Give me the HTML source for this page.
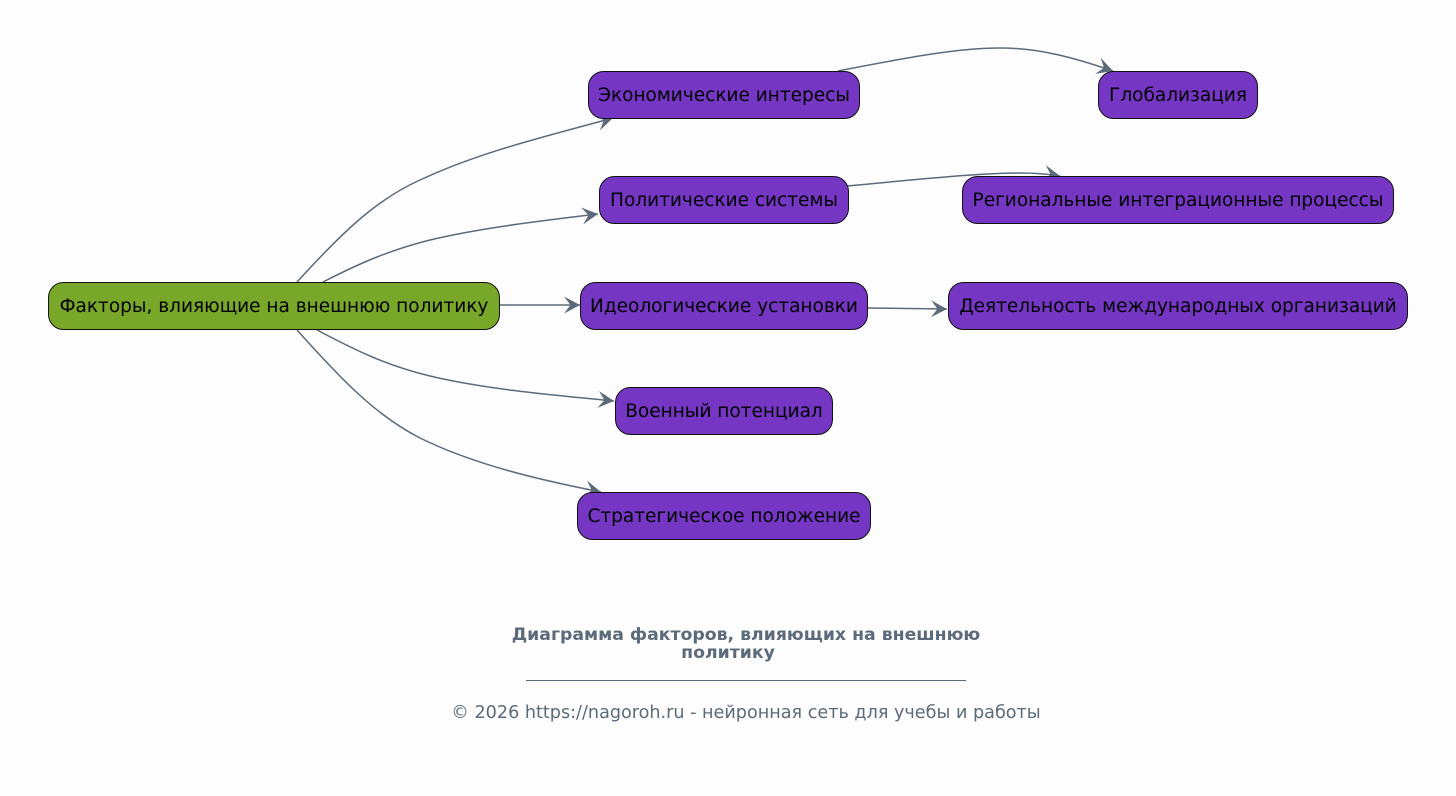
<!DOCTYPE html>
<html><head><meta charset="utf-8"><style>
html,body{margin:0;padding:0;background:#fdfdfd;}
svg{display:block}
text{font-family:"DejaVu Sans","Liberation Sans",sans-serif;}
</style></head><body>
<svg width="1456" height="796" viewBox="0 0 1456 796" xmlns="http://www.w3.org/2000/svg">
<rect width="1456" height="796" fill="#fdfdfd"/>
<defs>
<marker id="a" viewBox="0 0 16 16" refX="15" refY="8" markerWidth="17" markerHeight="17" markerUnits="userSpaceOnUse" orient="auto">
<path d="M0,0 L15,8 L0,16 L6,8 Z" fill="#5c6b7a"/>
</marker>
</defs>
<g fill="none" stroke="#5c6b7a" stroke-width="1.5" marker-end="url(#a)">
<path d="M297,282 C340,235 375,200 420,180 C480,152 540,138 613,118"/>
<path d="M323,282 C360,263 390,250 430,240 C480,228 540,221 598,214"/>
<path d="M500,305 L580,305"/>
<path d="M317,330 C355,350 385,365 430,376 C480,388 540,394 614,401"/>
<path d="M297,330 C340,378 375,415 420,438 C475,465 540,480 601,492"/>
<path d="M838,71 C900,59 955,48 1000,48 C1040,48 1075,58 1113,71"/>
<path d="M848,186 C920,179 980,173 1020,173 C1035,173 1048,174 1060,176"/>
<path d="M868,308 L947,309"/>
</g>
<g stroke="#111" stroke-width="1">
<rect x="48.5" y="282.5" width="451" height="47" rx="15" fill="#78a72a"/>
<rect x="588.5" y="71.5" width="271" height="47" rx="15" fill="#7536c4"/>
<rect x="599.5" y="176.5" width="249" height="47" rx="15" fill="#7536c4"/>
<rect x="580.5" y="282.5" width="287" height="47" rx="15" fill="#7536c4"/>
<rect x="615.5" y="387.5" width="217" height="47" rx="15" fill="#7536c4"/>
<rect x="577.5" y="492.5" width="293" height="47" rx="15" fill="#7536c4"/>
<rect x="1098.5" y="71.5" width="159" height="47" rx="15" fill="#7536c4"/>
<rect x="962.5" y="176.5" width="431" height="47" rx="15" fill="#7536c4"/>
<rect x="948.5" y="282.5" width="459" height="47" rx="15" fill="#7536c4"/>
</g>
<g font-size="18.5" fill="#000" text-anchor="middle">
<text x="274" y="312">Факторы, влияющие на внешнюю политику</text>
<text x="724" y="101">Экономические интересы</text>
<text x="724" y="206">Политические системы</text>
<text x="724" y="312">Идеологические установки</text>
<text x="724" y="417">Военный потенциал</text>
<text x="724" y="522">Стратегическое положение</text>
<text x="1178" y="101">Глобализация</text>
<text x="1178" y="206">Региональные интеграционные процессы</text>
<text x="1178" y="312">Деятельность международных организаций</text>
</g>
<g fill="#5c6b7a" text-anchor="middle">
<text x="746" y="640" font-size="17.3" font-weight="bold">Диаграмма факторов, влияющих на внешнюю</text>
<text x="728" y="658" font-size="17.3" font-weight="bold">политику</text>
<line x1="526" y1="680.5" x2="966" y2="680.5" stroke="#5c6b7a" stroke-width="1"/>
<text x="746" y="718" font-size="17.6">© 2026 https://nagoroh.ru - нейронная сеть для учебы и работы</text>
</g>
</svg>
</body></html>
